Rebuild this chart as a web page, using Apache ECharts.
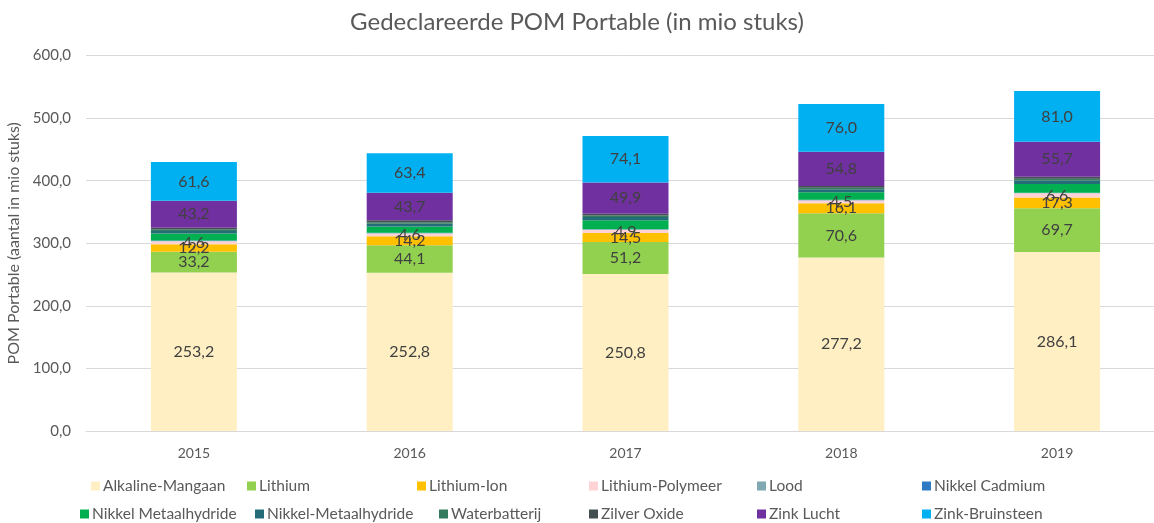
<!DOCTYPE html>
<html>
<head>
<meta charset="utf-8">
<script src="https://cdn.jsdelivr.net/npm/echarts@6/dist/echarts.min.js"></script>
<style>
  html, body { margin: 0; padding: 0; background: #fff; }
  #chart { width: 1154px; height: 523px; }
</style>
</head>
<body>
<div id="chart"></div>
<script>
// jaren
var years = ['2015', '2016', '2017', '2018', '2019'];

// waarden per type (mio stuks)
var alkalineMangaan = [253.2, 252.8, 250.8, 277.2, 286.1];
var lithium = [33.2, 44.1, 51.2, 70.6, 69.7];
var lithiumIon = [12.2, 14.2, 14.5, 16.1, 17.3];
var lithiumPolymeer = [4.6, 4.6, 4.9, 4.5, 6.6];
var lood = [0.5, 0.5, 0.5, 0.6, 0.5];
var nikkelCadmium = [0.5, 0.5, 0.5, 0.6, 0.5];
var nikkelMetaalhydride = [11.5, 10.0, 14.5, 12.0, 14.0];
var nikkelMetaalhydride2 = [4.0, 4.5, 5.0, 4.5, 5.5];
var waterbatterij = [2.5, 2.5, 2.5, 2.5, 3.0];
var zilverOxide = [2.7, 3.2, 2.8, 3.0, 3.2];
var zinkLucht = [43.2, 43.7, 49.9, 54.8, 55.7];
var zinkBruinsteen = [61.6, 63.4, 74.1, 76.0, 81.0];

var yTicks = [0, 100, 200, 300, 400, 500, 600];

var font = 'Lato, "Open Sans", sans-serif';

function komma(v) {
    return v.toFixed(1).replace('.', ',');
}

var seriesDefs = [
    { name: 'Alkaline-Mangaan', data: alkalineMangaan, color: '#FFEFC3', label: true },
    { name: 'Lithium', data: lithium, color: '#92D050', label: true },
    { name: 'Lithium-Ion', data: lithiumIon, color: '#FFC000', label: true },
    { name: 'Lithium-Polymeer', data: lithiumPolymeer, color: '#FFD3D6', label: true },
    { name: 'Lood', data: lood, color: '#7FA8B3', label: false },
    { name: 'Nikkel Cadmium', data: nikkelCadmium, color: '#2E7BC4', label: false },
    { name: 'Nikkel Metaalhydride', data: nikkelMetaalhydride, color: '#00B050', label: false },
    { name: 'Nikkel-Metaalhydride', data: nikkelMetaalhydride2, color: '#246C78', label: false },
    { name: 'Waterbatterij', data: waterbatterij, color: '#347B60', label: false },
    { name: 'Zilver Oxide', data: zilverOxide, color: '#434F51', label: false },
    { name: 'Zink Lucht', data: zinkLucht, color: '#7030A0', label: true },
    { name: 'Zink-Bruinsteen', data: zinkBruinsteen, color: '#00B0F0', label: true }
];

var series = seriesDefs.map(function (s) {
    return {
        name: s.name,
        type: 'bar',
        stack: 'totaal',
        barWidth: 86,
        data: s.data,
        itemStyle: { color: s.color },
        label: {
            show: s.label,
            position: 'inside',
            color: '#404040',
            fontSize: 16,
            fontFamily: font,
            formatter: function (p) { return komma(p.value); }
        }
    };
});

// legenda-posities (twee rijen)
var legendPos = [
    [91, 478], [247, 478], [417, 478], [589, 478], [757, 478], [922, 478],
    [80, 506], [255, 506], [439, 506], [589, 506], [757, 506], [922, 506]
];

var legends = seriesDefs.map(function (s, i) {
    return {
        data: [s.name],
        left: legendPos[i][0],
        top: legendPos[i][1],
        itemWidth: 9,
        itemHeight: 9,
        itemGap: 0,
        padding: 0,
        selectedMode: false,
        icon: 'rect',
        textStyle: { color: '#595959', fontSize: 15.5, fontFamily: font, padding: [0, 0, 0, -2] }
    };
});

var chart = echarts.init(document.getElementById('chart'));
chart.setOption({
    animation: false,
    title: {
        text: 'Gedeclareerde POM Portable (in mio stuks)',
        left: 'center',
        top: 5,
        textStyle: { color: '#595959', fontSize: 24, fontWeight: 'normal', fontFamily: font }
    },
    legend: legends,
    grid: { left: 86, right: -11, top: 55.5, bottom: 92, containLabel: false, outerBoundsMode: 'none' },
    xAxis: {
        type: 'category',
        data: years,
        axisLine: { lineStyle: { color: '#D9D9D9' } },
        axisTick: { show: false },
        axisLabel: { color: '#595959', fontSize: 14, fontFamily: font, margin: 15 }
    },
    yAxis: {
        type: 'value',
        min: yTicks[0],
        max: yTicks[yTicks.length - 1],
        interval: 100,
        name: 'POM Portable (aantal in mio stuks)',
        nameLocation: 'middle',
        nameGap: 64,
        nameTextStyle: { color: '#595959', fontSize: 16, fontFamily: font },
        axisLine: { show: false },
        axisTick: { show: false },
        splitLine: { lineStyle: { color: '#D9D9D9' } },
        axisLabel: {
            color: '#595959', fontSize: 15, fontFamily: font, margin: 15,
            formatter: function (v) { return komma(v); }
        }
    },
    series: series
});
</script>
</body>
</html>
